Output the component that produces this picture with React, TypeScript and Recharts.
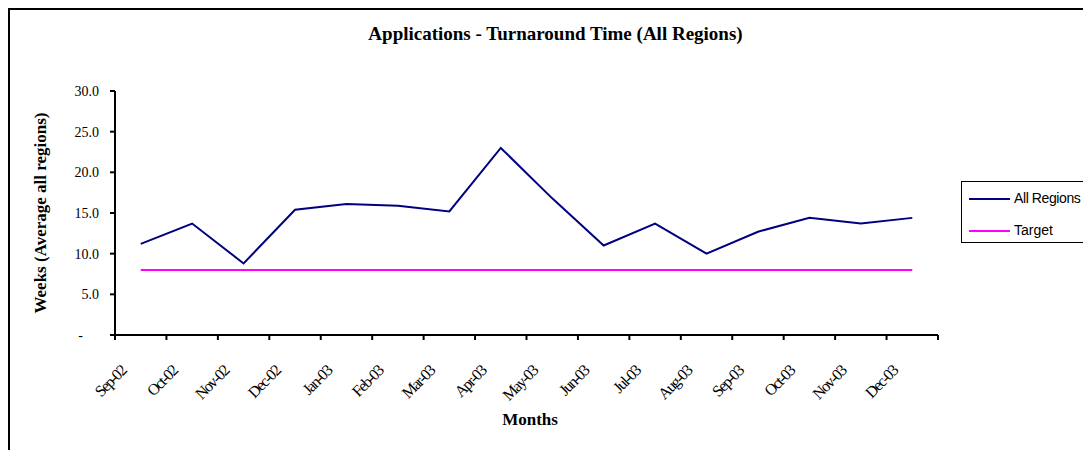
import React from "react";
import { LineChart, Line, XAxis, YAxis } from "recharts";

const months = ["Sep-02", "Oct-02", "Nov-02", "Dec-02", "Jan-03", "Feb-03", "Mar-03", "Apr-03", "May-03", "Jun-03", "Jul-03", "Aug-03", "Sep-03", "Oct-03", "Nov-03", "Dec-03"];
const allRegions = [11.2, 13.7, 8.8, 15.4, 16.1, 15.9, 15.2, 23.0, 16.8, 11.0, 13.7, 10.0, 12.7, 14.4, 13.7, 14.4];
const target = [8, 8, 8, 8, 8, 8, 8, 8, 8, 8, 8, 8, 8, 8, 8, 8];
const yTicks = [0, 5, 10, 15, 20, 25, 30];
const xTicks = months.map((_, i) => i).concat([months.length]);

const data = months.map((m, i) => ({ x: i + 0.5, month: m, all: allRegions[i], target: target[i] }));

const serif = "'Liberation Serif', 'Times New Roman', serif";
const sans = "'Liberation Sans', Arial, sans-serif";

const XTick = (props: any) => {
  const { x, y, payload } = props;
  const label = months[payload.value] ?? "";
  return (
    <g transform={`translate(${x + 12},${y + 30})`}>
      <text textAnchor="end" transform="rotate(-45)" fontFamily={serif} fontSize={16} letterSpacing={-1.5} fill="#000">
        {label}
      </text>
    </g>
  );
};

const YTick = (props: any) => {
  const { x, y, payload } = props;
  const v = payload.value;
  const label = v === 0 ? "-" : v.toFixed(1);
  return (
    <text x={v === 0 ? x - 16 : x} y={y} dy={5} textAnchor="end" fontFamily={serif} fontSize={14} fill="#000">
      {label}
    </text>
  );
};

const LegendBox = () => (
  <div style={{ position: "absolute", left: 951, top: 171, width: 125, height: 60, border: "1.5px solid #000", background: "#fff", fontFamily: sans, fontSize: 14, color: "#000" }}>
    <div style={{ position: "absolute", left: 7, top: 16, width: 41, height: 2, background: "#000080" }} />
    <div style={{ position: "absolute", left: 52, top: 8, whiteSpace: "nowrap", letterSpacing: -0.4 }}>All Regions</div>
    <div style={{ position: "absolute", left: 7, top: 48, width: 41, height: 2, background: "#FF00FF" }} />
    <div style={{ position: "absolute", left: 52, top: 40 }}>Target</div>
  </div>
);

export default function App() {
  return (
    <div style={{ width: 1083, height: 442, borderTop: "2px solid #000", borderLeft: "2px solid #000", position: "relative", overflow: "hidden", boxSizing: "border-box", background: "#fff" }}>
      <div style={{ position: "absolute", left: 0, width: 1081, top: 13, textAlign: "center", fontFamily: serif, fontWeight: "bold", fontSize: 19, paddingLeft: 10, boxSizing: "border-box" }}>
        Applications - Turnaround Time (All Regions)
      </div>
      <LineChart width={1081} height={440} data={data} margin={{ top: 81, right: 153, bottom: 0, left: 0 }}>
        <XAxis
          dataKey="x"
          type="number"
          domain={[0, months.length]}
          ticks={xTicks}
          interval={0}
          height={115}
          tick={<XTick />}
          tickSize={5}
          axisLine={{ stroke: "#000", strokeWidth: 2 }}
          tickLine={{ stroke: "#000", strokeWidth: 2 }}
        />
        <YAxis
          domain={[0, 30]}
          ticks={yTicks}
          width={105}
          tick={<YTick />}
          tickSize={5}
          tickMargin={11}
          axisLine={{ stroke: "#000", strokeWidth: 2 }}
          tickLine={{ stroke: "#000", strokeWidth: 2 }}
          label={{ value: "Weeks (Average all regions)", angle: -90, position: "insideLeft", offset: 30, style: { fontFamily: serif, fontWeight: "bold", fontSize: 17, fill: "#000", textAnchor: "middle" } }}
        />
        <Line dataKey="target" name="Target" stroke="#FF00FF" strokeWidth={2} dot={false} isAnimationActive={false} />
        <Line dataKey="all" name="All Regions" stroke="#000080" strokeWidth={2} dot={false} isAnimationActive={false} />
      </LineChart>
      <LegendBox />
      <div style={{ position: "absolute", left: 520 - 100, width: 200, top: 400, textAlign: "center", fontFamily: serif, fontWeight: "bold", fontSize: 17 }}>
        Months
      </div>
    </div>
  );
}
